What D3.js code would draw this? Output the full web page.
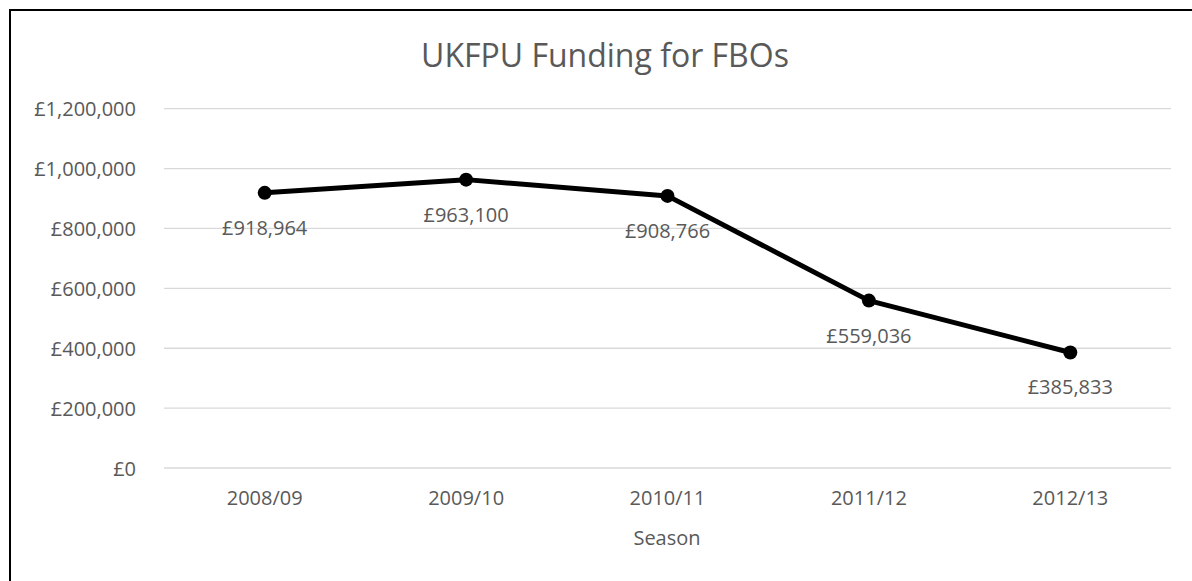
<!DOCTYPE html>
<html>
<head>
<meta charset="utf-8">
<script src="https://cdn.jsdelivr.net/npm/d3@7"></script>
<style>
  body { margin: 0; background: #fff; }
  text { font-family: "Open Sans", sans-serif; fill: #595959; }
</style>
</head>
<body>
<script>
// chart data
var seasons = ["2008/09", "2009/10", "2010/11", "2011/12", "2012/13"];
var funding = [918964, 963100, 908766, 559036, 385833];
var yTicks = [0, 200000, 400000, 600000, 800000, 1000000, 1200000];

var W = 1192, H = 581;
var margin = {top: 108.7, right: 21, bottom: 113, left: 164};
var fs = 20;

var svg = d3.select("body").append("svg")
    .attr("width", W)
    .attr("height", H);

// outer frame (right and bottom edges run off the picture)
svg.append("rect")
    .attr("x", 10).attr("y", 10)
    .attr("width", W + 10).attr("height", H + 10)
    .attr("fill", "none")
    .attr("stroke", "#000")
    .attr("stroke-width", 2);

var x = d3.scaleBand()
    .domain(seasons)
    .range([margin.left, W - margin.right]);

var y = d3.scaleLinear()
    .domain([0, 1200000])
    .range([H - margin.bottom, margin.top]);

var fmt = function(v) { return "£" + d3.format(",")(v); };

// gridlines
svg.append("g").selectAll("line")
    .data(yTicks)
  .enter().append("line")
    .attr("x1", margin.left)
    .attr("x2", W - margin.right)
    .attr("y1", function(d) { return y(d); })
    .attr("y2", function(d) { return y(d); })
    .attr("stroke", "#d9d9d9")
    .attr("stroke-width", 1.3);

// y axis labels
var yAxis = svg.append("g")
    .attr("transform", "translate(" + (margin.left - 28) + ",0)")
    .call(d3.axisLeft(y).tickValues(yTicks).tickFormat(fmt).tickSize(0).tickPadding(0));
yAxis.select(".domain").remove();
yAxis.selectAll("text")
    .attr("font-size", fs)
    .attr("dy", "0.35em")
    .style("font-family", "'Open Sans', sans-serif")
    .attr("fill", "#595959");

// x axis labels
var xAxis = svg.append("g")
    .attr("transform", "translate(0," + (H - margin.bottom) + ")")
    .call(d3.axisBottom(x).tickSize(0).tickPadding(0));
xAxis.select(".domain").remove();
xAxis.selectAll("text")
    .attr("font-size", fs)
    .attr("y", 30)
    .attr("dy", "0.35em")
    .style("font-family", "'Open Sans', sans-serif")
    .attr("fill", "#595959");

// title
svg.append("text")
    .attr("x", 605)
    .attr("y", 67)
    .attr("text-anchor", "middle")
    .attr("font-size", 32)
    .text("UKFPU Funding for FBOs");

// axis title
svg.append("text")
    .attr("x", 667)
    .attr("y", 538)
    .attr("dy", "0.35em")
    .attr("text-anchor", "middle")
    .attr("font-size", fs)
    .text("Season");

var cx = function(i) { return x(seasons[i]) + x.bandwidth() / 2; };

// line
var line = d3.line()
    .x(function(d, i) { return cx(i); })
    .y(function(d) { return y(d); });

svg.append("path")
    .datum(funding)
    .attr("d", line)
    .attr("fill", "none")
    .attr("stroke", "#000")
    .attr("stroke-width", 5)
    .attr("stroke-linejoin", "round");

// markers
svg.append("g").selectAll("circle")
    .data(funding)
  .enter().append("circle")
    .attr("cx", function(d, i) { return cx(i); })
    .attr("cy", function(d) { return y(d); })
    .attr("r", 7)
    .attr("fill", "#000");

// data labels below points
svg.append("g").selectAll("text")
    .data(funding)
  .enter().append("text")
    .attr("x", function(d, i) { return cx(i); })
    .attr("y", function(d) { return y(d) + 35; })
    .attr("dy", "0.35em")
    .attr("text-anchor", "middle")
    .attr("font-size", fs)
    .text(fmt);
</script>
</body>
</html>
